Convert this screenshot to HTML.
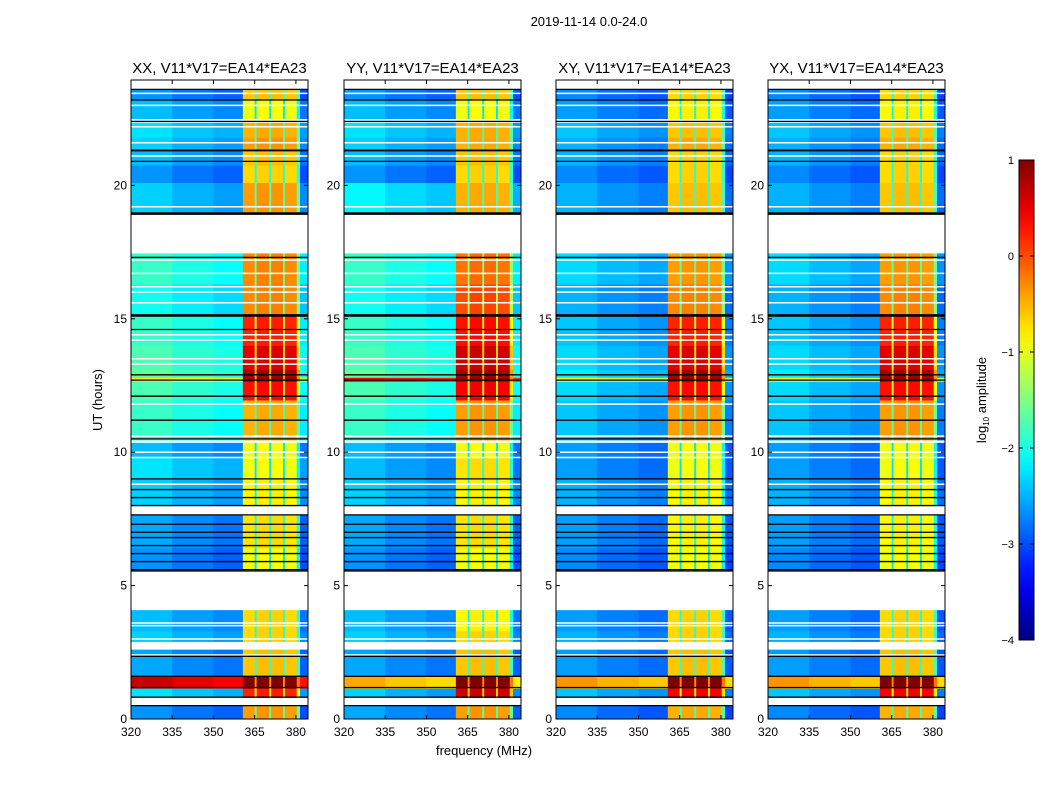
<!DOCTYPE html>
<html><head><meta charset="utf-8">
<style>
body{margin:0;background:#fff;}
svg text{font-family:"Liberation Sans",sans-serif;fill:#000;}
</style></head>
<body>
<svg id="chart" width="1050" height="800" xmlns="http://www.w3.org/2000/svg">
<rect width="1050" height="800" fill="#fff"/>
<text x="589" y="26" font-size="13" text-anchor="middle">2019-11-14 0.0-24.0</text>
<text x="484" y="755" font-size="13" text-anchor="middle">frequency (MHz)</text>
<text x="102" y="400" font-size="13" text-anchor="middle" transform="rotate(-90 102 400)">UT (hours)</text>
<g id="panels"></g>
<g id="cbar"></g>
</svg>
<script>
// ---- data ----
const panelTitles = ["XX, V11*V17=EA14*EA23","YY, V11*V17=EA14*EA23","XY, V11*V17=EA14*EA23","YX, V11*V17=EA14*EA23"];
const segStart = [0.0,0.5,0.8,1.15,1.6,2.6,2.9,3.3,5.55,6.4,7.7,8.0,9.0,9.8,10.45,11.95,12.65,12.8,13.1,14.0,15.1,16.3,17.45,19.0,20.1,20.75,21.3,21.8,22.5,23.2];
const segEnd   = [0.5,0.8,1.15,1.6,2.6,2.85,3.3,4.08,6.4,7.65,7.95,9.0,9.8,10.35,11.95,12.65,12.8,13.1,14.0,15.1,16.3,17.45,18.9,20.1,20.75,21.3,21.8,22.35,23.2,23.6];
// background level (log10 amplitude) per segment, per panel
const bgXX = [-2.8,null,-2.4,0.5,-2.7,null,-2.5,-2.6,-2.8,-2.7,null,-2.5,-2.4,-2.6,-2.0,-1.9,-0.9,-1.8,-1.9,-2.0,-2.2,-2.0,null,-2.5,-2.8,-2.6,-2.5,-2.4,-2.6,-2.8];
const bgYY = [-2.7,null,-2.5,-0.6,-2.7,null,-2.5,-2.6,-2.8,-2.7,null,-2.5,-2.6,-2.6,-2.0,-1.9,0.3,-1.8,-1.9,-2.0,-2.2,-2.0,null,-2.3,-2.8,-2.6,-2.5,-2.4,-2.6,-2.8];
const bgXY = [-2.85,null,-2.55,-0.5,-2.75,null,-2.65,-2.75,-2.85,-2.75,null,-2.65,-2.75,-2.75,-2.55,-2.45,-1.0,-2.35,-2.45,-2.55,-2.65,-2.45,null,-2.65,-2.85,-2.65,-2.65,-2.55,-2.75,-2.85];
const bgYX = [-2.85,null,-2.55,-0.5,-2.75,null,-2.65,-2.75,-2.85,-2.75,null,-2.65,-2.75,-2.75,-2.55,-2.45,-1.0,-2.35,-2.45,-2.55,-2.65,-2.45,null,-2.65,-2.85,-2.65,-2.65,-2.55,-2.75,-2.85];
// band level per segment, per panel
const bandXX = [-0.4,null,0.2,1.0,-0.6,null,-0.7,-0.7,-0.95,-0.75,null,-0.85,-0.95,-0.95,-0.5,0.3,0.9,0.8,0.5,0.2,-0.3,-0.3,null,-0.4,-0.7,-0.6,-0.4,-0.5,-0.95,-0.6];
const bandYY = [-0.4,null,0.6,1.0,-0.6,null,-0.7,-0.85,-0.95,-0.75,null,-0.85,-0.75,-0.95,-0.4,0.4,0.9,0.8,0.6,0.3,0.0,-0.2,null,-0.5,-0.7,-0.6,-0.5,-0.5,-0.95,-0.6];
const bandXY = [-0.5,null,0.4,1.0,-0.6,null,-0.7,-0.7,-0.95,-0.85,null,-0.85,-0.95,-0.95,-0.4,0.3,0.9,0.8,0.5,0.2,-0.3,-0.4,null,-0.6,-0.7,-0.7,-0.5,-0.6,-0.85,-0.7];
const bandYX = [-0.5,null,0.4,1.0,-0.6,null,-0.7,-0.7,-0.95,-0.85,null,-0.85,-0.95,-0.95,-0.4,0.3,0.9,0.8,0.5,0.2,-0.3,-0.4,null,-0.6,-0.7,-0.7,-0.5,-0.6,-0.85,-0.7];
// frequency columns: start, end, kind (0=bg, 1=band, 2=gap, 3=edge), offset
const colStart = [320,335,350,360.7,365.0,365.7,370.3,371.0,375.3,376.0,380.3,381.5];
const colEnd   = [335,350,360.7,365.0,365.7,370.3,371.0,375.3,376.0,380.3,381.5,384.4];
const colKind  = [0,0,0,1,2,1,2,1,2,1,2,3];
const colOff   = [0.15,0.0,-0.1,0.0,-1.3,0.05,-1.3,0.05,-1.3,0.0,-1.2,-0.2];
const blackLines = [0.5,0.82,1.6,1.18,2.35,5.55,5.6,5.9,6.2,6.5,6.8,7.0,7.3,7.65,8.0,8.3,8.6,9.0,10.5,11.2,12.1,12.7,12.9,14.6,15.1,15.15,17.3,18.92,18.97,20.9,21.3,21.32,22.4,23.2,23.6];
const whiteLines = [2.4,3.0,3.5,3.6,8.8,9.8,10.0,10.6,11.8,13.3,13.5,14.2,14.4,15.6,16.0,16.2,16.7,17.2,19.2,21.1,21.6,22.2,23.0,23.45];
const yTicks = [0,5,10,15,20];
const xTicks = [320,335,350,365,380];
const cbTicks = [1,0,-1,-2,-3,-4];

const bgs=[bgXX,bgYY,bgXY,bgYX], bands=[bandXX,bandYY,bandXY,bandYX];
const panelX=[131,344,556,768], PW=177, PT=80, PB=719;
const fMin=320, fMax=384.4, tMin=0, tMax=23.95;
const vMin=-4, vMax=1;

function jet(v){
  let x=(v-vMin)/(vMax-vMin); x=Math.max(0,Math.min(1,x));
  const r=Math.max(0,Math.min(1,1.5-Math.abs(4*x-3)));
  const g=Math.max(0,Math.min(1,1.5-Math.abs(4*x-2)));
  const b=Math.max(0,Math.min(1,1.5-Math.abs(4*x-1)));
  return `rgb(${Math.round(r*255)},${Math.round(g*255)},${Math.round(b*255)})`;
}
const NS="http://www.w3.org/2000/svg";
function mk(tag,attrs,parent){const e=document.createElementNS(NS,tag);for(const k in attrs)e.setAttribute(k,attrs[k]);parent.appendChild(e);return e;}
const yS=t=>PB-(t-tMin)/(tMax-tMin)*(PB-PT);

const panels=document.getElementById('panels');
for(let p=0;p<4;p++){
  const x0=panelX[p];
  const xS=f=>x0+(f-fMin)/(fMax-fMin)*PW;
  const g=mk('g',{},panels);
  
  
  for(let s=0;s<segStart.length;s++){
    const bg=bgs[p][s], bd=bands[p][s];
    if(bg===null) continue;
    for(let c=0;c<colStart.length;c++){
      const k=colKind[c];
      let v = (k===0||k===3)? bg+colOff[c] : bd+colOff[c];
      const y1=yS(segEnd[s]), y2=yS(segStart[s]);
      const r=mk('rect',{x:xS(colStart[c]),y:y1,width:xS(colEnd[c])-xS(colStart[c])+0.3,height:y2-y1+0.3,fill:jet(v)},g);
      
      
    }
  }
  for(const t of whiteLines){
    const l=mk('line',{x1:x0,x2:x0+PW,y1:yS(t),y2:yS(t),stroke:'#fff','stroke-width':1.5},g);
    
    
  }
  for(const t of blackLines){
    const l=mk('line',{x1:x0,x2:x0+PW,y1:yS(t),y2:yS(t),stroke:'#000','stroke-width':1.3},g);
    
    
  }
  const fr=mk('rect',{x:x0,y:PT,width:PW,height:PB-PT,fill:'none',stroke:'#000','stroke-width':1},g);
  
  
  const tt=mk('text',{x:x0+PW/2,y:73,'font-size':15,'text-anchor':'middle'},g);
  tt.textContent=panelTitles[p];
  
  
  for(const t of yTicks){
    const y=yS(t);
    mk('line',{x1:x0,x2:x0+4,y1:y,y2:y,stroke:'#000'},g);
    mk('line',{x1:x0+PW-4,x2:x0+PW,y1:y,y2:y,stroke:'#000'},g);
    const tx=mk('text',{x:x0-4,y:y+4,'font-size':12,'text-anchor':'end'},g);
    tx.textContent=t;
    
    
  }
  for(const f of xTicks){
    const x=xS(f);
    mk('line',{x1:x,x2:x,y1:PB,y2:PB-4,stroke:'#000'},g);
    mk('line',{x1:x,x2:x,y1:PT,y2:PT+4,stroke:'#000'},g);
    const tx=mk('text',{x:x,y:PB+17,'font-size':12,'text-anchor':'middle'},g);
    tx.textContent=f;
    
    
  }
}
// colorbar
const cb=document.getElementById('cbar');


const CX=1019,CW=15,CT=160,CB=640;
const defs=mk('defs',{},cb);
const gr=mk('linearGradient',{id:'jetg',x1:0,y1:1,x2:0,y2:0},defs);
for(let i=0;i<=20;i++){mk('stop',{offset:i/20,'stop-color':jet(vMin+(vMax-vMin)*i/20)},gr);}
mk('rect',{x:CX,y:CT,width:CW,height:CB-CT,fill:'url(#jetg)',stroke:'#000','stroke-width':1},cb);
for(const v of cbTicks){
  const y=CB-(v-vMin)/(vMax-vMin)*(CB-CT);
  mk('line',{x1:CX,x2:CX+4,y1:y,y2:y,stroke:'#000'},cb);
  mk('line',{x1:CX+CW-4,x2:CX+CW,y1:y,y2:y,stroke:'#000'},cb);
  const tx=mk('text',{x:CX-5,y:y+4,'font-size':11,'text-anchor':'end'},cb);
  tx.textContent=v<0?'\u2212'+(-v):String(v);
  
  
}
const cl=mk('text',{x:986,y:400,'font-size':13,'text-anchor':'middle',transform:'rotate(-90 986 400)'},cb);
cl.innerHTML='log<tspan font-size="8" dy="3">10</tspan><tspan dy="-3"> amplitude</tspan>';


</script>
</body></html>
